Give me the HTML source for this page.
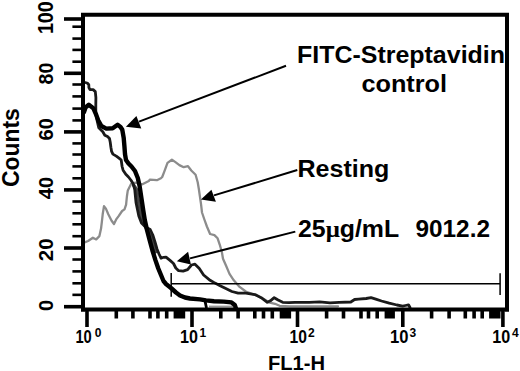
<!DOCTYPE html>
<html><head><meta charset="utf-8"><style>
html,body{margin:0;padding:0;background:#fff;}
svg{display:block;}
.b{font-family:"Liberation Sans",sans-serif;font-weight:bold;fill:#000;}
.r{font-family:"Liberation Sans",sans-serif;fill:#000;}
</style></head><body>
<svg width="520" height="371" viewBox="0 0 520 371">
<rect width="520" height="371" fill="#fff"/>

<line x1="209" y1="306.4" x2="233" y2="306.4" stroke="#999" stroke-width="1.6"/>
<line x1="205" y1="301" x2="206.5" y2="308" stroke="#000" stroke-width="2.8"/>
<polyline points="133.5,185.0 136.8,190.0 138.6,202.4 141.4,216.0 144.0,224.0 147.0,229.5 150.5,236.0 153.0,244.0 155.5,252.0" fill="none" stroke="#444" stroke-width="3.4" stroke-linejoin="round" stroke-linecap="round"/>
<polyline points="84.0,242.6 88.1,241.0 92.9,237.7 96.2,239.4 99.4,236.1 101.0,228.8 101.8,222.4 102.7,214.3 104.0,206.2 105.9,208.6 108.3,214.3 111.6,220.7 114.0,224.0 116.4,219.1 118.8,215.9 122.1,211.0 124.5,209.4 126.1,204.6 126.9,196.5 127.8,190.4 131.2,183.7 135.9,182.7 139.3,183.7 142.4,184.3 148.8,181.0 150.0,179.6 156.9,180.2 160.9,178.3 162.2,177.0 164.3,171.6 167.5,162.9 171.9,159.7 175.1,161.9 179.4,165.1 183.7,167.2 188.0,166.2 191.3,170.5 195.6,174.8 197.7,182.3 198.8,188.8 199.9,196.3 201.0,203.9 202.0,212.5 204.2,219.0 206.9,226.5 210.1,234.0 214.4,235.1 217.6,238.3 219.8,244.8 221.9,252.3 223.0,258.8 226.3,266.3 229.5,273.9 233.8,280.3 239.6,286.9 245.8,291.5 251.9,293.8 258.1,296.2 264.2,299.2 268.8,302.3 275.0,303.8 279.6,305.8 290.0,306.3 338.0,306.3" fill="none" stroke="#8c8c8c" stroke-width="2.3" stroke-linejoin="round" stroke-linecap="round"/>
<polyline points="85.0,82.5 87.2,83.0 88.8,84.8 88.9,87.5 90.0,89.6 93.1,89.6 95.3,91.6 95.9,97.6 95.8,105.0 95.8,113.8 97.4,122.0 98.8,127.8 102.8,131.8 104.8,135.2 107.5,136.6 109.5,138.6 110.2,142.0 110.9,147.3 111.6,151.4 112.9,154.1 116.3,156.1 119.0,158.1 121.2,160.0 122.1,166.5 123.1,170.2 125.8,174.3 128.5,177.0 131.2,180.5 133.3,184.0 134.8,190.0 136.0,202.4 138.8,216.0 141.5,223.0 145.5,227.0 150.2,229.5 152.8,235.0 155.0,242.0 157.0,249.0 159.0,254.0 161.0,258.2 163.5,257.3 166.0,257.1 170.0,260.4 173.5,263.5 175.8,268.0 178.6,270.7 183.1,271.1 187.6,269.7 191.5,265.0 195.0,264.2 199.3,268.5 203.6,275.0 210.1,280.3 215.0,283.1 219.6,285.4 225.8,288.5 231.9,291.5 238.1,293.1 245.8,293.1 255.0,294.6 261.2,297.7 267.3,302.3 270.4,300.8 274.2,297.7 278.1,300.0 282.7,302.3 288.8,302.6 295.0,302.3 309.2,302.3 319.6,301.8 330.0,302.9 339.2,302.3 350.8,302.0 354.6,299.5 358.5,299.1 366.2,298.5 371.0,297.7 375.8,299.1 381.5,301.0 389.2,303.2 396.9,305.0 402.7,306.1 405.5,305.5 408.5,304.8 410.0,307.5" fill="none" stroke="#1a1a1a" stroke-width="2.8" stroke-linejoin="round" stroke-linecap="round"/>
<polyline points="84.0,112.0 85.5,107.5 88.8,104.8 93.3,108.2 95.8,113.8 98.2,120.3 101.4,126.0 106.3,128.6 112.7,128.3 117.6,124.8 120.5,127.0 122.3,129.8 123.7,137.9 124.4,146.0 125.0,154.1 126.0,160.0 128.5,163.5 131.5,166.5 135.0,171.0 137.8,178.0 139.6,186.0 141.4,198.0 143.2,210.0 144.8,220.0 147.0,230.0 149.6,240.0 152.3,250.0 155.5,260.4 158.3,268.5 161.0,275.0 163.5,281.0 166.0,284.0 171.0,288.0 176.0,292.5 180.0,295.5 185.0,297.5 190.0,298.5 200.0,299.4 206.0,300.4 214.0,301.2 223.8,301.6 231.5,302.4 234.8,305.0 235.8,308.0" fill="none" stroke="#000" stroke-width="4.4" stroke-linejoin="round" stroke-linecap="round"/>


<line x1="83" y1="13" x2="83" y2="311.5" stroke="#000" stroke-width="4"/>
<line x1="81" y1="14.8" x2="509" y2="14.8" stroke="#000" stroke-width="4"/>
<line x1="507" y1="13" x2="507" y2="311.5" stroke="#000" stroke-width="4"/>
<line x1="81" y1="309.5" x2="509" y2="309.5" stroke="#000" stroke-width="4"/>

<line x1="64" y1="19" x2="83" y2="19" stroke="#000" stroke-width="3.6"/><line x1="64" y1="73.3" x2="83" y2="73.3" stroke="#000" stroke-width="3.6"/><line x1="64" y1="131.9" x2="83" y2="131.9" stroke="#000" stroke-width="3.6"/><line x1="64" y1="189.9" x2="83" y2="189.9" stroke="#000" stroke-width="3.6"/><line x1="64" y1="248" x2="83" y2="248" stroke="#000" stroke-width="3.6"/><line x1="64" y1="306.7" x2="83" y2="306.7" stroke="#000" stroke-width="3.6"/><line x1="72.4" y1="26.7" x2="83" y2="26.7" stroke="#000" stroke-width="2.6"/><line x1="72.4" y1="38.6" x2="83" y2="38.6" stroke="#000" stroke-width="2.6"/><line x1="72.4" y1="49.9" x2="83" y2="49.9" stroke="#000" stroke-width="2.6"/><line x1="72.4" y1="61.7" x2="83" y2="61.7" stroke="#000" stroke-width="2.6"/><line x1="72.4" y1="84.5" x2="83" y2="84.5" stroke="#000" stroke-width="2.6"/><line x1="72.4" y1="96.4" x2="83" y2="96.4" stroke="#000" stroke-width="2.6"/><line x1="72.4" y1="108.6" x2="83" y2="108.6" stroke="#000" stroke-width="2.6"/><line x1="72.4" y1="120.4" x2="83" y2="120.4" stroke="#000" stroke-width="2.6"/><line x1="72.4" y1="143.4" x2="83" y2="143.4" stroke="#000" stroke-width="2.6"/><line x1="72.4" y1="154.5" x2="83" y2="154.5" stroke="#000" stroke-width="2.6"/><line x1="72.4" y1="166.4" x2="83" y2="166.4" stroke="#000" stroke-width="2.6"/><line x1="72.4" y1="178.3" x2="83" y2="178.3" stroke="#000" stroke-width="2.6"/><line x1="72.4" y1="201.5" x2="83" y2="201.5" stroke="#000" stroke-width="2.6"/><line x1="72.4" y1="213.3" x2="83" y2="213.3" stroke="#000" stroke-width="2.6"/><line x1="72.4" y1="224.3" x2="83" y2="224.3" stroke="#000" stroke-width="2.6"/><line x1="72.4" y1="236.2" x2="83" y2="236.2" stroke="#000" stroke-width="2.6"/><line x1="72.4" y1="259.5" x2="83" y2="259.5" stroke="#000" stroke-width="2.6"/><line x1="72.4" y1="271.4" x2="83" y2="271.4" stroke="#000" stroke-width="2.6"/><line x1="72.4" y1="283.3" x2="83" y2="283.3" stroke="#000" stroke-width="2.6"/><line x1="72.4" y1="294.85" x2="83" y2="294.85" stroke="#000" stroke-width="2.6"/>
<line x1="87" y1="309" x2="87" y2="327" stroke="#000" stroke-width="3.6"/><line x1="116.3" y1="309" x2="116.3" y2="318.5" stroke="#000" stroke-width="3.6"/><line x1="132.9" y1="309" x2="132.9" y2="318.5" stroke="#000" stroke-width="3.6"/><line x1="150.0" y1="309" x2="150.0" y2="318.5" stroke="#000" stroke-width="3.6"/><line x1="157.9" y1="309" x2="157.9" y2="318.5" stroke="#000" stroke-width="3.6"/><line x1="166.7" y1="309" x2="166.7" y2="318.5" stroke="#000" stroke-width="3.6"/><rect x="173.6" y="309" width="11.6" height="9.5" fill="#000"/><line x1="192" y1="309" x2="192" y2="327" stroke="#000" stroke-width="3.6"/><line x1="220.8" y1="309" x2="220.8" y2="318.5" stroke="#000" stroke-width="3.6"/><line x1="238.1" y1="309" x2="238.1" y2="318.5" stroke="#000" stroke-width="3.6"/><line x1="254.8" y1="309" x2="254.8" y2="318.5" stroke="#000" stroke-width="3.6"/><line x1="263.5" y1="309" x2="263.5" y2="318.5" stroke="#000" stroke-width="3.6"/><line x1="272.3" y1="309" x2="272.3" y2="318.5" stroke="#000" stroke-width="3.6"/><rect x="279.7" y="309" width="11.4" height="9.5" fill="#000"/><line x1="297.5" y1="309" x2="297.5" y2="327" stroke="#000" stroke-width="3.6"/><line x1="326.6" y1="309" x2="326.6" y2="318.5" stroke="#000" stroke-width="3.6"/><line x1="343.5" y1="309" x2="343.5" y2="318.5" stroke="#000" stroke-width="3.6"/><line x1="361.0" y1="309" x2="361.0" y2="318.5" stroke="#000" stroke-width="3.6"/><line x1="368.5" y1="309" x2="368.5" y2="318.5" stroke="#000" stroke-width="3.6"/><line x1="377.2" y1="309" x2="377.2" y2="318.5" stroke="#000" stroke-width="3.6"/><rect x="384.6" y="309" width="10.3" height="9.5" fill="#000"/><line x1="402.8" y1="309" x2="402.8" y2="327" stroke="#000" stroke-width="3.6"/><line x1="431.6" y1="309" x2="431.6" y2="318.5" stroke="#000" stroke-width="3.6"/><line x1="449.1" y1="309" x2="449.1" y2="318.5" stroke="#000" stroke-width="3.6"/><line x1="465.3" y1="309" x2="465.3" y2="318.5" stroke="#000" stroke-width="3.6"/><line x1="474.1" y1="309" x2="474.1" y2="318.5" stroke="#000" stroke-width="3.6"/><line x1="482.2" y1="309" x2="482.2" y2="318.5" stroke="#000" stroke-width="3.6"/><rect x="489.1" y="309" width="11.4" height="9.5" fill="#000"/><line x1="502.9" y1="309" x2="502.9" y2="327" stroke="#000" stroke-width="3.6"/>
<text transform="translate(53.40,17.70) rotate(-90)" text-anchor="middle" class="b" font-size="21.43" textLength="32.86" lengthAdjust="spacingAndGlyphs">100</text><text transform="translate(52.80,73.60) rotate(-90)" text-anchor="middle" class="b" font-size="20.72" textLength="21.75" lengthAdjust="spacingAndGlyphs">80</text><text transform="translate(53.00,129.30) rotate(-90)" text-anchor="middle" class="b" font-size="20.75" textLength="22.30" lengthAdjust="spacingAndGlyphs">60</text><text transform="translate(53.00,188.10) rotate(-90)" text-anchor="middle" class="b" font-size="20.75" textLength="22.30" lengthAdjust="spacingAndGlyphs">40</text><text transform="translate(53.00,249.80) rotate(-90)" text-anchor="middle" class="b" font-size="20.75" textLength="22.80" lengthAdjust="spacingAndGlyphs">20</text><text transform="translate(53.20,305.40) rotate(-90)" text-anchor="middle" class="b" font-size="20.00" textLength="11.18" lengthAdjust="spacingAndGlyphs">0</text><text transform="translate(19.40,147.60) rotate(-90)" text-anchor="middle" class="b" font-size="24.39" textLength="78.72" lengthAdjust="spacingAndGlyphs">Counts</text>
<text x="75.40" y="342.60" class="b" font-size="18" textLength="16.37" lengthAdjust="spacingAndGlyphs">10</text><text x="180.00" y="342.50" class="b" font-size="18" textLength="17.92" lengthAdjust="spacingAndGlyphs">10</text><text x="289.60" y="342.50" class="b" font-size="18" textLength="17.43" lengthAdjust="spacingAndGlyphs">10</text><text x="390.00" y="342.50" class="b" font-size="18" textLength="18.47" lengthAdjust="spacingAndGlyphs">10</text><text x="492.20" y="342.60" class="b" font-size="18" textLength="17.95" lengthAdjust="spacingAndGlyphs">10</text><text x="94.80" y="336.70" class="b" font-size="12">0</text><text x="199.6" y="336.90" class="b" font-size="12">1</text><text x="308.00" y="336.90" class="b" font-size="12">2</text><text x="409.40" y="336.70" class="b" font-size="12">3</text><text x="512.00" y="336.70" class="b" font-size="12">4</text><text x="268.00" y="369.5" class="b" font-size="20" textLength="57.10" lengthAdjust="spacingAndGlyphs">FL1-H</text>

<text x="297.00" y="62.9" class="b" font-size="23" textLength="207.99" lengthAdjust="spacingAndGlyphs">FITC-Streptavidin</text>
<text x="361.50" y="91.9" class="b" font-size="23" textLength="85.54" lengthAdjust="spacingAndGlyphs">control</text>
<text x="297.50" y="177.2" class="b" font-size="23" textLength="91.84" lengthAdjust="spacingAndGlyphs">Resting</text>
<text x="298.00" y="236.7" class="b" font-size="23" textLength="101.14" lengthAdjust="spacingAndGlyphs">25<tspan font-family="Liberation Serif">μ</tspan>g/mL</text>
<text x="415.50" y="236.9" class="b" font-size="23" textLength="74.45" lengthAdjust="spacingAndGlyphs">9012.2</text>


<line x1="286" y1="65.8" x2="139" y2="121.6" stroke="#000" stroke-width="2"/>
<polygon points="125.9,126.8 136.4,115.9 141.3,128.4" fill="#000"/>
<line x1="297.3" y1="170" x2="214" y2="195.4" stroke="#000" stroke-width="2"/>
<polygon points="200.9,199.4 211.4,189.7 215.9,201.8" fill="#000"/>
<line x1="295.3" y1="231.6" x2="190" y2="258.4" stroke="#000" stroke-width="2"/>
<polygon points="176.8,261.2 188.1,251.8 190.9,264.5" fill="#000"/>


<line x1="171.2" y1="283.8" x2="500.1" y2="283.8" stroke="#000" stroke-width="1.5"/>
<line x1="171.2" y1="273.1" x2="171.2" y2="296.8" stroke="#000" stroke-width="1.5"/>
<line x1="500.1" y1="273.2" x2="500.1" y2="295" stroke="#000" stroke-width="1.5"/>

</svg>
</body></html>
